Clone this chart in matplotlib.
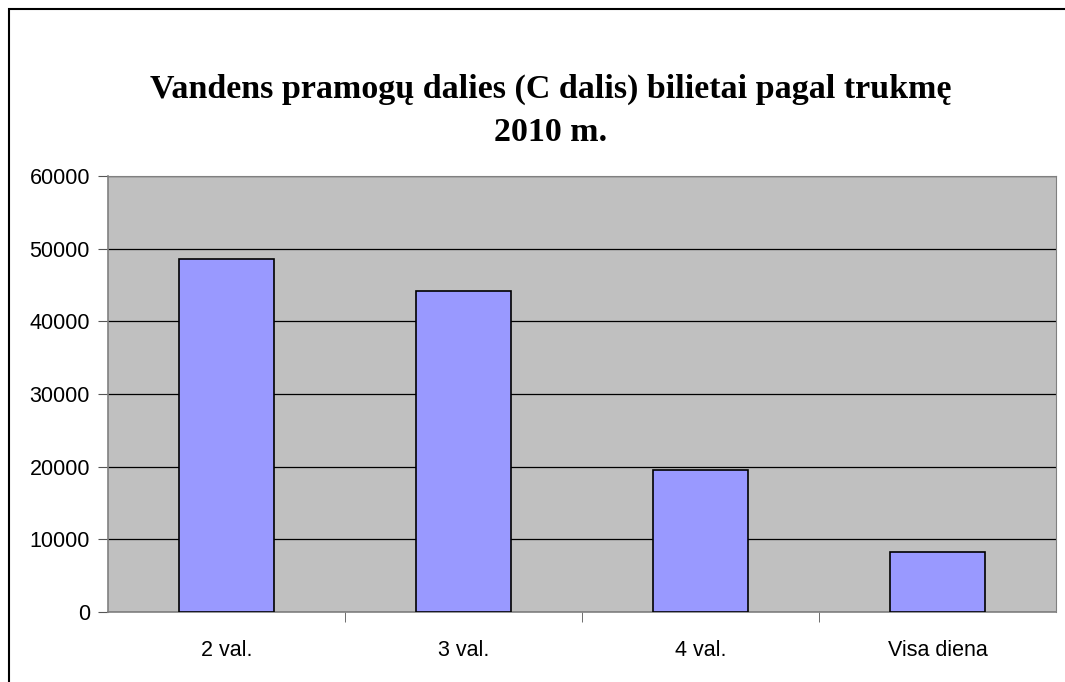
import matplotlib.pyplot as plt
from matplotlib.patches import Rectangle

categories = ["2 val.", "3 val.", "4 val.", "Visa diena"]
tickets = [48600, 44200, 19600, 8300]
title = "Vandens pramogų dalies (C dalis) bilietai pagal trukmę\n2010 m."

fig = plt.figure(figsize=(10.65, 6.82), dpi=100)
ax = fig.add_axes([108 / 1065, 70 / 682, 948 / 1065, 436 / 682])

# outer chart frame (left and top edges visible)
fig.patches.append(Rectangle((9 / 1065, -0.1), 1.2, (682 - 9) / 682 + 0.1,
                             transform=fig.transFigure, fill=False,
                             edgecolor="black", linewidth=1.5))

x = range(len(categories))
ax.set_facecolor("#C0C0C0")
ax.bar(x, tickets, width=0.4, color="#9999FF", edgecolor="black",
       linewidth=1.2, zorder=3)

ax.set_ylim(0, 60000)
ax.set_yticks(range(0, 60001, 10000))
ax.set_xlim(-0.5, len(categories) - 0.5)
ax.yaxis.grid(True, color="black", linewidth=0.9, zorder=1)
ax.set_axisbelow(True)

ax.set_xticks(list(x))
ax.set_xticklabels(categories)
ax.set_xticks([i + 0.5 for i in range(len(categories) - 1)], minor=True)
ax.tick_params(axis="x", which="major", length=0, pad=20)
ax.tick_params(axis="x", which="minor", length=7, direction="out", color="#555555")
ax.tick_params(axis="y", length=7, direction="out", pad=6, color="#555555")
for lbl in ax.get_xticklabels() + ax.get_yticklabels():
    lbl.set_fontfamily("Liberation Sans")
    lbl.set_fontsize(15.5)

for side in ["top", "right"]:
    ax.spines[side].set_color("#808080")
for side in ["left", "bottom"]:
    ax.spines[side].set_color("#808080")
    ax.spines[side].set_linewidth(1.2)

fig.text(0.517, 1 - 111 / 682, title, ha="center", va="center",
         fontfamily="Liberation Serif", fontweight="bold", fontsize=24.5,
         linespacing=1.5)

fig.savefig("out.png", dpi=100)
